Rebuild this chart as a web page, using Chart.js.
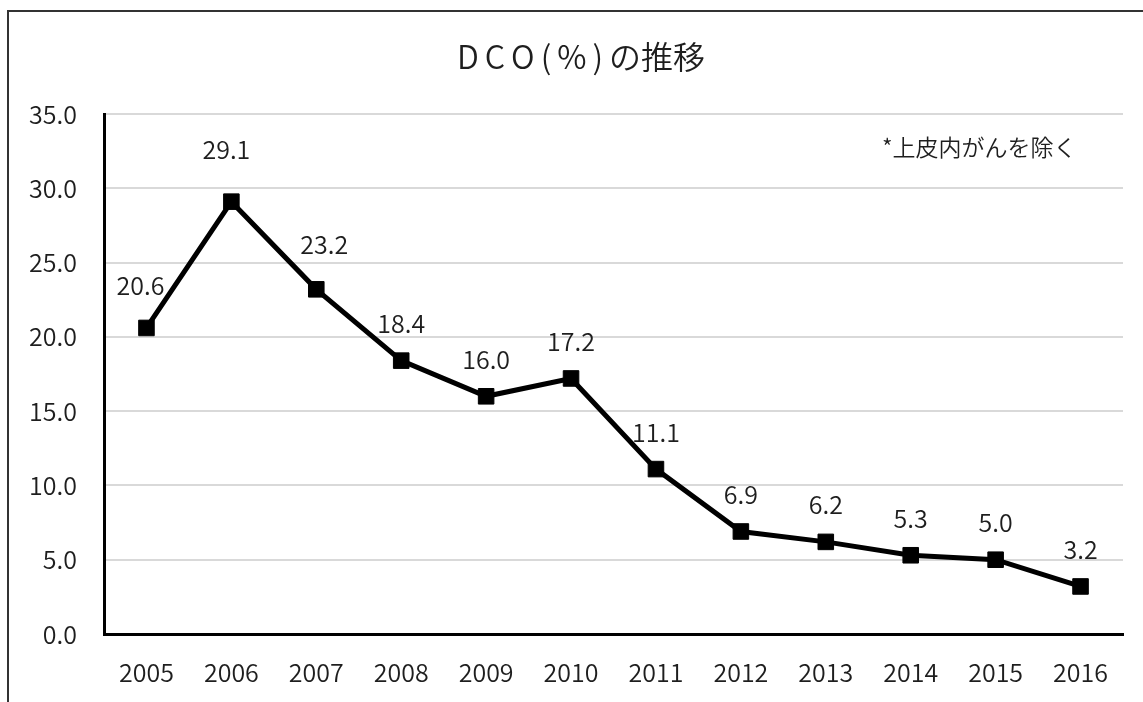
<!DOCTYPE html>
<html>
<head>
<meta charset="utf-8">
<script src="https://cdn.jsdelivr.net/npm/chart.js@4.4.1/dist/chart.umd.min.js"></script>
<style>
  html, body { margin: 0; padding: 0; background: #fff; overflow: hidden; }
  #wrap { position: relative; width: 1143px; height: 702px; }
  #frame { position: absolute; left: 7px; top: 10px; width: 1200px; height: 800px;
           border-left: 2px solid #333; border-top: 2px solid #333; pointer-events: none; }
  canvas { position: absolute; left: 0; top: 0; }
</style>
</head>
<body>
<div id="wrap">
  <canvas id="chart" width="1143" height="702"></canvas>
  <div id="frame"></div>
</div>
<script>
// data
var years = ["2005", "2006", "2007", "2008", "2009", "2010", "2011", "2012", "2013", "2014", "2015", "2016"];
var dco = [20.6, 29.1, 23.2, 18.4, 16.0, 17.2, 11.1, 6.9, 6.2, 5.3, 5.0, 3.2];
var yTicks = [0, 5, 10, 15, 20, 25, 30, 35];

var titleHead = "DCO(%)";
var titleTail = "の推移";
var note = "*上皮内がんを除く";

var FONT = "'Noto Sans CJK JP', 'Noto Sans', sans-serif";
var TEXT = "#1e1e1e";
var W = "350";

// label nudges (a few labels were moved by hand in the original)
var nudge = { 0: [-6, -42], 1: [-5, -52], 2: [8, -45] };

var extras = {
  id: "extras",
  afterDatasetsDraw: function(chart) {
    var ctx = chart.ctx;
    var meta = chart.getDatasetMeta(0);
    ctx.save();
    ctx.fillStyle = TEXT;
    ctx.font = W + " 25px " + FONT;
    ctx.textAlign = "center";
    ctx.textBaseline = "middle";
    meta.data.forEach(function(pt, i) {
      var n = nudge[i] || [0, -37];
      ctx.fillText(dco[i].toFixed(1), pt.x + n[0], pt.y + n[1]);
    });

    // note in the top right
    ctx.font = W + " 23px " + FONT;
    ctx.textAlign = "left";
    ctx.fillText(note, 882, 147);

    // title, ascii part spaced out
    ctx.font = W + " 32px " + FONT;
    ctx.textBaseline = "alphabetic";
    var sp = 6;
    var w = 0;
    for (var k = 0; k < titleHead.length; k++) w += ctx.measureText(titleHead[k]).width + sp;
    w += ctx.measureText(titleTail).width;
    var x = 581 - w / 2;
    for (var k = 0; k < titleHead.length; k++) {
      ctx.fillText(titleHead[k], x, 69);
      x += ctx.measureText(titleHead[k]).width + sp;
    }
    ctx.fillText(titleTail, x, 69);
    ctx.restore();
  }
};

new Chart(document.getElementById("chart"), {
  type: "line",
  data: {
    labels: years,
    datasets: [{
      label: "DCO",
      data: dco,
      borderColor: "#000",
      backgroundColor: "#000",
      borderWidth: 5,
      pointStyle: "rect",
      pointRadius: 11,
      pointBorderWidth: 1,
      pointBorderColor: "#000",
      pointBackgroundColor: "#000",
      tension: 0
    }]
  },
  options: {
    responsive: false,
    animation: false,
    layout: { padding: { top: 114, right: 20, bottom: 0, left: 0 } },
    plugins: { legend: { display: false }, title: { display: false }, tooltip: { enabled: false } },
    scales: {
      x: {
        offset: true,
        grid: { display: false, drawTicks: false },
        border: { color: "#000", width: 3 },
        ticks: { color: TEXT, font: { family: FONT, size: 25, weight: W }, padding: 23, maxRotation: 0 },
        afterFit: function(s) { s.height = 68; }
      },
      y: {
        min: 0,
        max: 35,
        afterBuildTicks: function(s) { s.ticks = yTicks.map(function(v) { return { value: v }; }); },
        grid: { color: "#d9d9d9", lineWidth: 2, drawTicks: false },
        border: { color: "#000", width: 3 },
        ticks: {
          color: TEXT,
          font: { family: FONT, size: 25, weight: W },
          padding: 27,
          callback: function(v) { return Number(v).toFixed(1); }
        },
        afterFit: function(s) { s.width = 104; }
      }
    }
  },
  plugins: [extras]
});
</script>
</body>
</html>
